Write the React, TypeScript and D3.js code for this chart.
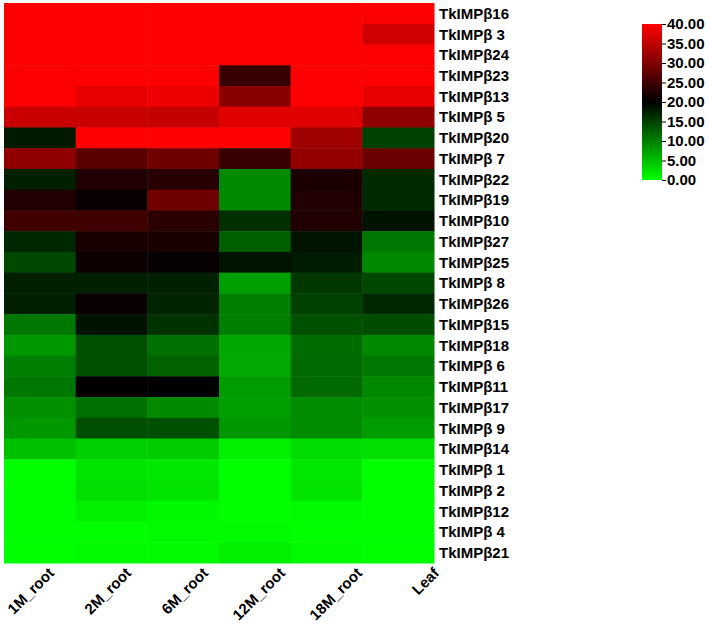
import React, { useEffect, useRef } from 'react';
import * as d3 from 'd3';

const samples = ['1M_root', '2M_root', '6M_root', '12M_root', '18M_root', 'Leaf'];

const genes = [
  'TkIMPβ16', 'TkIMPβ 3', 'TkIMPβ24', 'TkIMPβ23', 'TkIMPβ13', 'TkIMPβ 5', 'TkIMPβ20',
  'TkIMPβ 7', 'TkIMPβ22', 'TkIMPβ19', 'TkIMPβ10', 'TkIMPβ27', 'TkIMPβ25', 'TkIMPβ 8',
  'TkIMPβ26', 'TkIMPβ15', 'TkIMPβ18', 'TkIMPβ 6', 'TkIMPβ11', 'TkIMPβ17', 'TkIMPβ 9',
  'TkIMPβ14', 'TkIMPβ 1', 'TkIMPβ 2', 'TkIMPβ12', 'TkIMPβ 4', 'TkIMPβ21',
];

// expression values per gene, one per sample (same order as samples)
const values: number[][] = [
  [40, 40, 40, 40, 40, 40],
  [40, 40, 40, 40, 40, 36.3],
  [40, 40, 40, 40, 40, 40],
  [40, 40, 40, 24.5, 40, 40],
  [40, 38.2, 38.7, 30.8, 40, 38.2],
  [35.7, 35.7, 35.4, 37.6, 37.6, 31.3],
  [18, 40, 40, 40, 32.5, 15],
  [31.3, 27, 28.8, 24.4, 31.6, 28.3],
  [17.5, 22.5, 23.1, 9.2, 22, 16.7],
  [22.5, 20.6, 28.8, 9.2, 22.5, 16.7],
  [25, 25, 23.3, 16.2, 22.5, 18.6],
  [16.9, 21.9, 21.9, 12.5, 18.4, 10.6],
  [14.4, 21, 20.5, 18.4, 17.8, 9.3],
  [17.5, 17.5, 17.5, 7.5, 15.6, 14.4],
  [17.5, 20.6, 17.2, 10, 15, 16.9],
  [10.6, 18.6, 16.1, 10, 13.7, 14],
  [8.1, 13.7, 11.2, 6.8, 11.5, 9.3],
  [10, 13.7, 12.2, 6.7, 11.8, 10.6],
  [10.6, 20, 20, 7.8, 11.8, 9.3],
  [8.7, 11.2, 9.2, 7.5, 9, 8.7],
  [8.1, 13.9, 13.7, 8.1, 9, 7.8],
  [4.9, 3.7, 4, 1.2, 2.7, 2.4],
  [0, 2.1, 1.8, 0, 1.8, 0],
  [0, 2.4, 2.1, 0, 2.1, 0],
  [0, 1.2, 0.5, 0, 0.3, 0],
  [0, 0, 0.3, 0.3, 0, 0],
  [0, 0.3, 0.3, 1.2, 0.3, 0],
];

const legendTicks = [0, 5, 10, 15, 20, 25, 30, 35, 40];

const W = 709;
const H = 626;
const FONT = '"Liberation Sans", Arial, sans-serif';

export default function App() {
  const svgRef = useRef<SVGSVGElement>(null);

  useEffect(() => {
    if (!svgRef.current) return;
    const svg = d3.select(svgRef.current);
    svg.selectAll('*').remove();

    const heat = { left: 4, top: 3, right: 434, bottom: 563 };

    const x = d3.scaleBand<string>().domain(samples).range([heat.left, heat.right]);
    const y = d3.scaleBand<string>().domain(genes).range([heat.top, heat.bottom]);
    // sample labels are spread a bit wider than the columns
    const xLabel = d3.scalePoint<string>().domain(samples).range([55, 440]);

    const color = d3.scaleLinear<string>()
      .domain([0, 20, 40])
      .range(['#00ff00', '#000000', '#ff0000'])
      .clamp(true);

    const cells = genes.flatMap((g, i) =>
      samples.map((s, j) => ({ gene: g, sample: s, value: values[i][j] }))
    );

    svg.append('g')
      .selectAll('rect')
      .data(cells)
      .enter()
      .append('rect')
      .attr('x', d => x(d.sample)!)
      .attr('y', d => y(d.gene)!)
      .attr('width', x.bandwidth() + 0.5)
      .attr('height', y.bandwidth() + 0.5)
      .attr('fill', d => color(d.value));

    // row labels
    svg.append('g')
      .selectAll('text')
      .data(genes)
      .enter()
      .append('text')
      .attr('x', heat.right + 5)
      .attr('y', d => y(d)! + y.bandwidth() / 2)
      .attr('dy', '0.36em')
      .style('font-family', FONT)
      .style('font-weight', 'bold')
      .style('font-size', '15px')
      .style('fill', '#000')
      .text(d => d);

    // column labels
    svg.append('g')
      .selectAll('text')
      .data(samples)
      .enter()
      .append('text')
      .attr('transform', d => `translate(${xLabel(d)},${heat.bottom + 11}) rotate(-45)`)
      .style('text-anchor', 'end')
      .style('font-family', FONT)
      .style('font-weight', 'bold')
      .style('font-size', '15px')
      .style('fill', '#000')
      .text(d => d);

    // colour legend
    const lg = { x: 642, w: 20, top: 24, bottom: 180 };
    const defs = svg.append('defs');
    const grad = defs.append('linearGradient')
      .attr('id', 'heat-grad')
      .attr('x1', 0).attr('y1', 1).attr('x2', 0).attr('y2', 0);
    [0, 20, 40].forEach(v => {
      grad.append('stop')
        .attr('offset', `${(v / 40) * 100}%`)
        .attr('stop-color', color(v));
    });

    svg.append('rect')
      .attr('x', lg.x)
      .attr('y', lg.top)
      .attr('width', lg.w)
      .attr('height', lg.bottom - lg.top)
      .attr('fill', 'url(#heat-grad)');

    const ly = d3.scaleLinear().domain([0, 40]).range([lg.bottom, lg.top]);
    const axis = svg.append('g')
      .attr('transform', `translate(${lg.x + lg.w},0)`)
      .call(d3.axisRight(ly).tickValues(legendTicks).tickFormat(d3.format('.2f')).tickSize(4).tickPadding(1));
    axis.select('.domain').remove();
    axis.selectAll('line').attr('stroke', '#000');
    axis.selectAll('text')
      .style('font-family', FONT)
      .style('font-weight', 'bold')
      .style('font-size', '15px')
      .style('fill', '#000');
  }, []);

  return (
    <div style={{ position: 'absolute', left: 0, top: 0, width: W, height: H, background: '#fff' }}>
      <svg ref={svgRef} width={W} height={H} />
    </div>
  );
}
